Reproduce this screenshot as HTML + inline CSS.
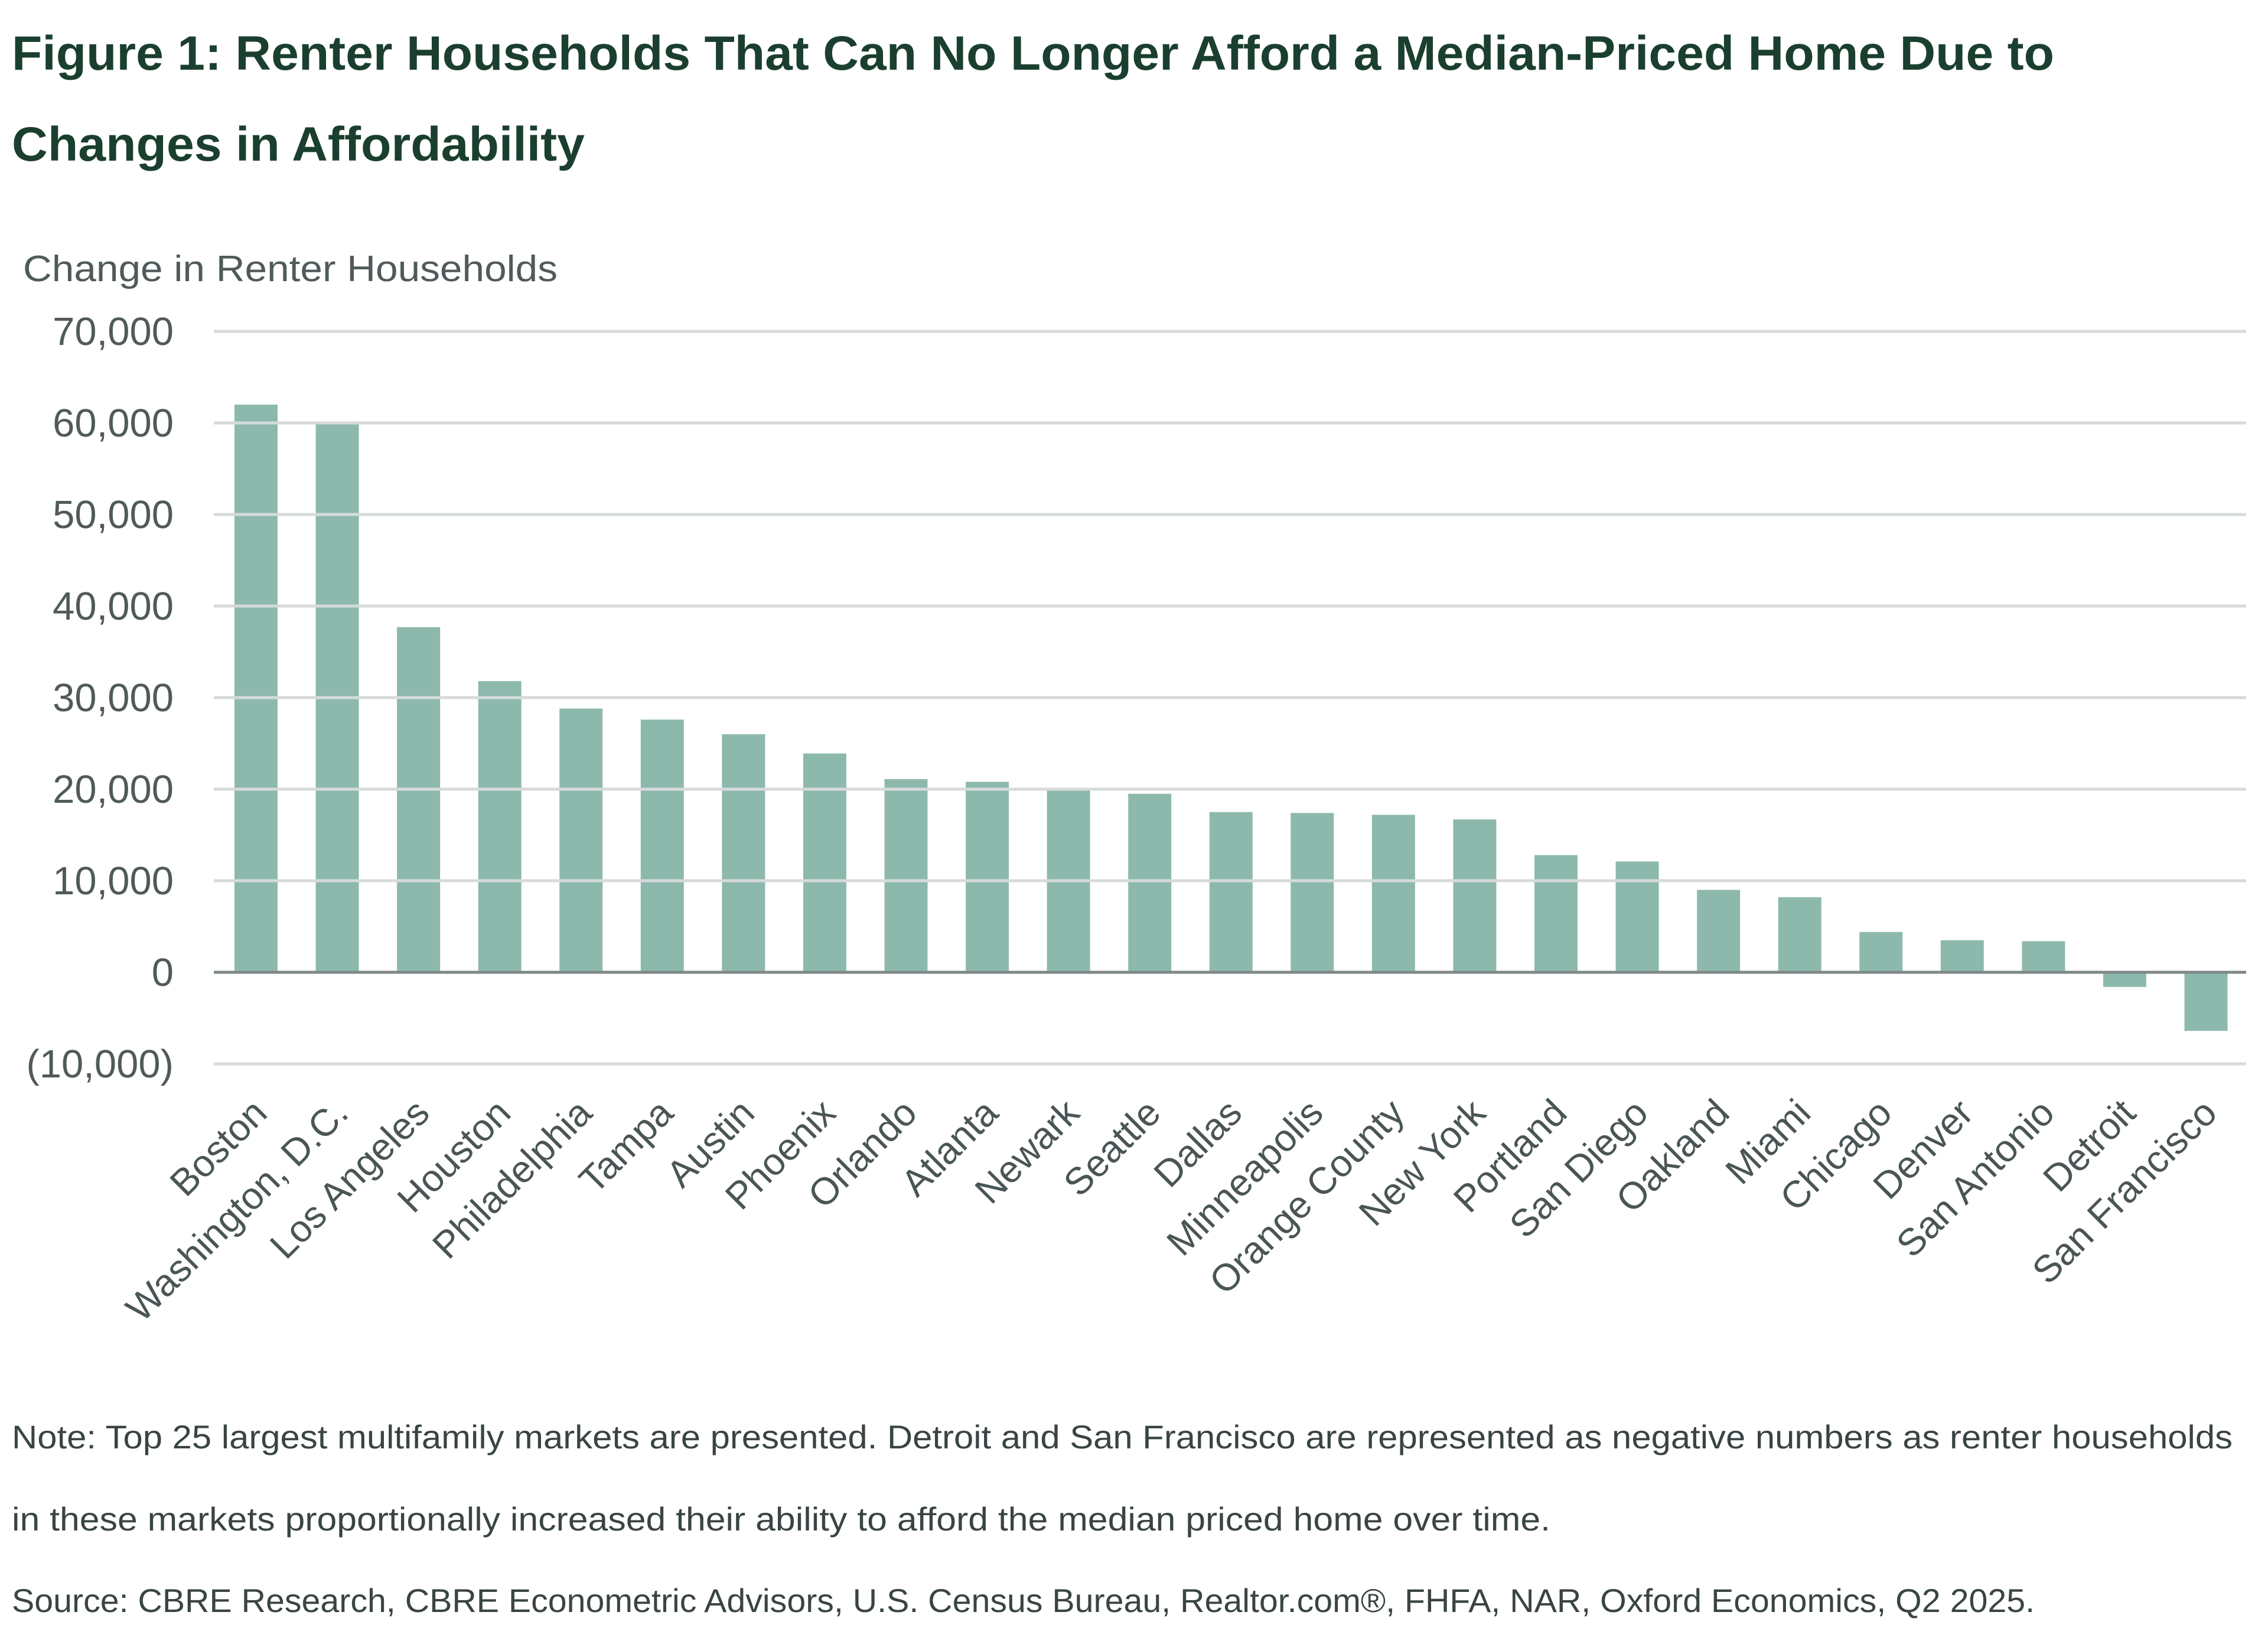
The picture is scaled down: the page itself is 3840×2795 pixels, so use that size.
<!DOCTYPE html>
<html><head><meta charset="utf-8"><style>
html,body{margin:0;padding:0;background:#fff;}
svg{display:block;font-family:"Liberation Sans",sans-serif;}
</style></head><body>
<svg id="chart" width="3840" height="2795" viewBox="0 0 3840 2795" xmlns="http://www.w3.org/2000/svg">
<text x="20" y="118" font-size="82" font-weight="bold" fill="#1b3f2f" textLength="3458" lengthAdjust="spacingAndGlyphs">Figure 1: Renter Households That Can No Longer Afford a Median-Priced Home Due to</text>
<text x="20" y="272" font-size="82" font-weight="bold" fill="#1b3f2f" textLength="970" lengthAdjust="spacingAndGlyphs">Changes in Affordability</text>
<text x="39" y="476" font-size="62" fill="#505a5a" textLength="905" lengthAdjust="spacingAndGlyphs">Change in Renter Households</text>
<g id="grid"></g>
<g id="bars"></g>
<g id="xlabels"></g>
<text x="20" y="2452" font-size="56" fill="#3a4444" textLength="3760" lengthAdjust="spacingAndGlyphs">Note: Top 25 largest multifamily markets are presented. Detroit and San Francisco are represented as negative numbers as renter households</text>
<text x="20" y="2591" font-size="56" fill="#3a4444" textLength="2605" lengthAdjust="spacingAndGlyphs">in these markets proportionally increased their ability to afford the median priced home over time.</text>
<text x="20" y="2729" font-size="56" fill="#3a4444" textLength="3425" lengthAdjust="spacingAndGlyphs">Source: CBRE Research, CBRE Econometric Advisors, U.S. Census Bureau, Realtor.com®, FHFA, NAR, Oxford Economics, Q2 2025.</text>
</svg>
<script>
const categories = ["Boston","Washington, D.C.","Los Angeles","Houston","Philadelphia","Tampa","Austin","Phoenix","Orlando","Atlanta","Newark","Seattle","Dallas","Minneapolis","Orange County","New York","Portland","San Diego","Oakland","Miami","Chicago","Denver","San Antonio","Detroit","San Francisco"];
const values = [62000,60000,37700,31800,28800,27600,26000,23900,21100,20800,20100,19500,17500,17400,17200,16700,12800,12100,9000,8200,4400,3500,3400,-1600,-6400];
const tickValues = [70000,60000,50000,40000,30000,20000,10000,0,-10000];
const tickLabels = ["70,000","60,000","50,000","40,000","30,000","20,000","10,000","0","(10,000)"];

const NS="http://www.w3.org/2000/svg";
const x0=362, x1=3803, yZero=1646, perUnit=155/10000;
const yScale=v=>yZero - v*perUnit;
const firstC=433.5, step=(3735-433.5)/(categories.length-1);
const xScale=i=>firstC + i*step;
const bw=73;
const grid=document.getElementById('grid'), bars=document.getElementById('bars'), xl=document.getElementById('xlabels');
tickValues.forEach((t,i)=>{
  const y=yScale(t);
  const ln=document.createElementNS(NS,'line');
  
  
  ln.setAttribute('x1',x0);ln.setAttribute('x2',x1);ln.setAttribute('y1',y);ln.setAttribute('y2',y);
  ln.setAttribute('stroke',t===0?'#7f8888':'#d6dada');ln.setAttribute('stroke-width',5);
  if(t===0) ln.setAttribute('id','zeroline');
  grid.appendChild(ln);
  const tx=document.createElementNS(NS,'text');
  
  
  tx.setAttribute('x',294);tx.setAttribute('y',y+23);tx.setAttribute('text-anchor','end');
  tx.setAttribute('font-size','67');tx.setAttribute('fill','#505a5a');
  tx.textContent=tickLabels[i];
  grid.appendChild(tx);
});
values.forEach((v,i)=>{
  const cx=xScale(i);
  const r=document.createElementNS(NS,'rect');
  
  
  const y=Math.min(yScale(v),yZero), h=Math.abs(yScale(v)-yZero);
  r.setAttribute('x',cx-bw/2);r.setAttribute('y',y);r.setAttribute('width',bw);r.setAttribute('height',h);
  r.setAttribute('fill','#8db9ad');
  bars.appendChild(r);
  const t=document.createElementNS(NS,'text');
  
  
  const lx=cx+22, ly=1888;
  t.setAttribute('x',lx);t.setAttribute('y',ly);t.setAttribute('text-anchor','end');
  t.setAttribute('transform','rotate(-45 '+lx+' '+ly+')');
  t.setAttribute('font-size','64');t.setAttribute('fill','#4a5555');
  t.textContent=categories[i];
  xl.appendChild(t);
});
grid.appendChild(document.getElementById('zeroline'));
document.getElementById('chart').insertBefore(grid, xl);
</script>
</body></html>
